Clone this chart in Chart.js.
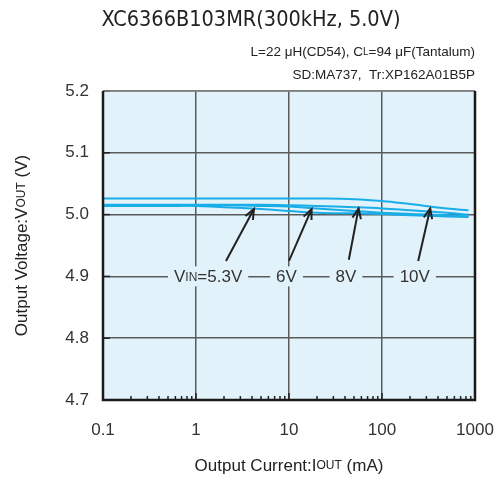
<!DOCTYPE html>
<html>
<head>
<meta charset="utf-8">
<script src="https://cdn.jsdelivr.net/npm/chart.js@4.4.0/dist/chart.umd.min.js"></script>
<style>
  html, body { margin: 0; padding: 0; background: #fff; }
  #wrap { width: 501px; height: 480px; }
</style>
</head>
<body>
<div id="wrap"><canvas id="chart" width="501" height="480"></canvas></div>
<script>
// output current (mA)
const currents = [0.1, 0.2, 0.5, 1, 2, 5, 10, 20, 50, 100, 200, 500, 850];
// output voltage (V) for each input voltage
const vout10V  = [5.026, 5.026, 5.026, 5.026, 5.026, 5.026, 5.026, 5.026, 5.025, 5.022, 5.017, 5.010, 5.007];
const vout8V   = [5.016, 5.016, 5.016, 5.016, 5.016, 5.016, 5.015, 5.014, 5.012, 5.010, 5.007, 5.003, 5.000];
const vout6V   = [5.015, 5.015, 5.015, 5.015, 5.015, 5.014, 5.013, 5.010, 5.006, 5.003, 5.001, 4.999, 4.997];
const vout53V  = [5.014, 5.014, 5.014, 5.014, 5.012, 5.009, 5.006, 5.003, 5.002, 5.001, 4.999, 4.997, 4.996];
const yTicks = [4.7, 4.8, 4.9, 5.0, 5.1, 5.2];
const xTicks = [0.1, 1, 10, 100, 1000];

const lineColor = '#19aee8';
const plotBg = '#e1f2fa';
const gridColor = '#5a5a5a';
const font = '"Liberation Sans", Arial, sans-serif';

const toPoints = (ys) => currents.map((x, i) => ({ x: x, y: ys[i] }));
const isDecade = (v) => Math.abs(Math.log10(v) - Math.round(Math.log10(v))) < 1e-9;

// text made of runs: [text, px size] so the small caps look like the original
function drawRuns(ctx, runs, x, y, align) {
  let total = 0;
  runs.forEach(r => { ctx.font = r[1] + 'px ' + font; total += ctx.measureText(r[0]).width; });
  let cx = align === 'center' ? x - total / 2 : (align === 'right' ? x - total : x);
  ctx.textAlign = 'left';
  runs.forEach(r => {
    ctx.font = r[1] + 'px ' + font;
    ctx.fillText(r[0], cx, y);
    cx += ctx.measureText(r[0]).width;
  });
  return total;
}

// labels + arrows in data coordinates: [label runs, labelX, arrow from (x,y) to (x,y)]
const callouts = [
  { runs: [['V', 17], ['IN', 12], ['=5.3V', 17]], lx: 1.35, ax: [2.1, 4.925, 4.2, 5.009] },
  { runs: [['6V', 17]], lx: 9.4, ax: [10, 4.925, 17.5, 5.009] },
  { runs: [['8V', 17]], lx: 41, ax: [44, 4.927, 56, 5.010] },
  { runs: [['10V', 17]], lx: 225, ax: [245, 4.925, 330, 5.010] }
];

const decorPlugin = {
  id: 'decor',
  beforeDraw(chart) {
    const { ctx, chartArea: a } = chart;
    ctx.save();
    ctx.fillStyle = plotBg;
    ctx.fillRect(a.left, a.top, a.right - a.left, a.bottom - a.top);
    ctx.restore();
  },
  afterDatasetsDraw(chart) {
    const { ctx, chartArea: a, scales: { x, y } } = chart;
    ctx.save();
    // tick marks inside the frame
    ctx.strokeStyle = '#222';
    ctx.lineWidth = 1.5;
    x.ticks.forEach(t => {
      const px = x.getPixelForValue(t.value);
      const len = isDecade(t.value) ? 7 : 4;
      ctx.beginPath(); ctx.moveTo(px, a.bottom); ctx.lineTo(px, a.bottom - len); ctx.stroke();
    });
    yTicks.forEach(v => {
      const py = y.getPixelForValue(v);
      ctx.beginPath(); ctx.moveTo(a.left, py); ctx.lineTo(a.left + 7, py); ctx.stroke();
    });
    // frame
    ctx.strokeStyle = '#8a8a8a';
    ctx.lineWidth = 1.5;
    ctx.beginPath(); ctx.moveTo(a.left, a.top); ctx.lineTo(a.right, a.top); ctx.stroke();
    ctx.strokeStyle = '#1a1a1a';
    ctx.lineWidth = 2.5;
    ctx.beginPath();
    ctx.moveTo(a.left, a.top); ctx.lineTo(a.left, a.bottom); ctx.lineTo(a.right, a.bottom); ctx.lineTo(a.right, a.top);
    ctx.stroke();

    // callouts
    const ly = y.getPixelForValue(4.9);
    ctx.textBaseline = 'middle';
    callouts.forEach(c => {
      const lx = x.getPixelForValue(c.lx);
      let w = 0;
      c.runs.forEach(r => { ctx.font = r[1] + 'px ' + font; w += ctx.measureText(r[0]).width; });
      ctx.fillStyle = plotBg;
      ctx.fillRect(lx - w / 2 - 6, ly - 10, w + 12, 20);
      ctx.fillStyle = '#333';
      drawRuns(ctx, c.runs, lx, ly + 1, 'center');

      const x0 = x.getPixelForValue(c.ax[0]), y0 = y.getPixelForValue(c.ax[1]);
      const x1 = x.getPixelForValue(c.ax[2]), y1 = y.getPixelForValue(c.ax[3]);
      ctx.strokeStyle = '#222';
      ctx.lineWidth = 2;
      ctx.beginPath(); ctx.moveTo(x0, y0); ctx.lineTo(x1, y1); ctx.stroke();
      const ang = Math.atan2(y1 - y0, x1 - x0);
      const h = 11;
      ctx.beginPath();
      ctx.moveTo(x1 - h * Math.cos(ang - 0.4), y1 - h * Math.sin(ang - 0.4));
      ctx.lineTo(x1, y1);
      ctx.lineTo(x1 - h * Math.cos(ang + 0.4), y1 - h * Math.sin(ang + 0.4));
      ctx.stroke();
    });
    ctx.restore();
  },
  afterDraw(chart) {
    const { ctx, chartArea: a } = chart;
    ctx.save();
    ctx.fillStyle = '#222';
    ctx.textBaseline = 'middle';
    ctx.textAlign = 'center';
    ctx.font = '21.5px "Liberation Sans Narrow", "DejaVu Sans Condensed", Arial, sans-serif';
    ctx.fillText('XC6366B103MR(300kHz, 5.0V)', 251, 20);

    drawRuns(ctx, [['L=22 μH(CD54), C', 13.5], ['L', 10], ['=94 μF(Tantalum)', 13.5]], a.right, 52, 'right');
    drawRuns(ctx, [['SD:MA737,  Tr:XP162A01B5P', 13.5]], a.right, 75, 'right');

    drawRuns(ctx, [['Output Current:I', 17], ['OUT', 12], [' (mA)', 17]], (a.left + a.right) / 2, 466, 'center');

    ctx.translate(22, (a.top + a.bottom) / 2);
    ctx.rotate(-Math.PI / 2);
    drawRuns(ctx, [['Output Voltage:V', 17], ['OUT', 12], [' (V)', 17]], 0, 0, 'center');
    ctx.restore();
  }
};

const ds = (label, ys) => ({
  label: label,
  data: toPoints(ys),
  borderColor: lineColor,
  borderWidth: 2,
  pointRadius: 0,
  tension: 0.4,
  fill: false
});

new Chart(document.getElementById('chart').getContext('2d'), {
  type: 'line',
  data: {
    datasets: [
      ds('VIN=10V', vout10V),
      ds('VIN=8V', vout8V),
      ds('VIN=6V', vout6V),
      ds('VIN=5.3V', vout53V)
    ]
  },
  options: {
    responsive: false,
    animation: false,
    layout: { padding: { top: 91, right: 26, left: 0, bottom: 0 } },
    plugins: { legend: { display: false }, tooltip: { enabled: false } },
    scales: {
      x: {
        type: 'logarithmic',
        min: 0.1,
        max: 1000,
        afterFit: (s) => { s.height = 80; s.paddingLeft = 0; s.paddingRight = 0; },
        afterBuildTicks: (s) => {
          const t = [];
          for (let d = 0.1; d < 999; d *= 10) {
            for (let k = 1; k < 10; k++) t.push({ value: +(d * k).toPrecision(3) });
          }
          t.push({ value: 1000 });
          s.ticks = t;
        },
        grid: {
          color: (c) => (c.tick && isDecade(c.tick.value) ? gridColor : 'rgba(0,0,0,0)'),
          lineWidth: 1.5,
          drawTicks: false
        },
        border: { display: false },
        ticks: {
          autoSkip: false,
          maxRotation: 0,
          padding: 20,
          color: '#333',
          font: { size: 17, family: font },
          callback: (v) => (xTicks.includes(+v) ? String(+v) : '')
        }
      },
      y: {
        min: 4.7,
        max: 5.2,
        afterFit: (s) => { s.width = 103; s.paddingTop = 0; s.paddingBottom = 0; },
        afterBuildTicks: (s) => { s.ticks = yTicks.map(v => ({ value: v })); },
        grid: { color: gridColor, lineWidth: 1.5, drawTicks: false },
        border: { display: false },
        ticks: {
          padding: 14,
          color: '#333',
          font: { size: 17, family: font },
          callback: (v) => v.toFixed(1)
        }
      }
    }
  },
  plugins: [decorPlugin]
});
</script>
</body>
</html>
